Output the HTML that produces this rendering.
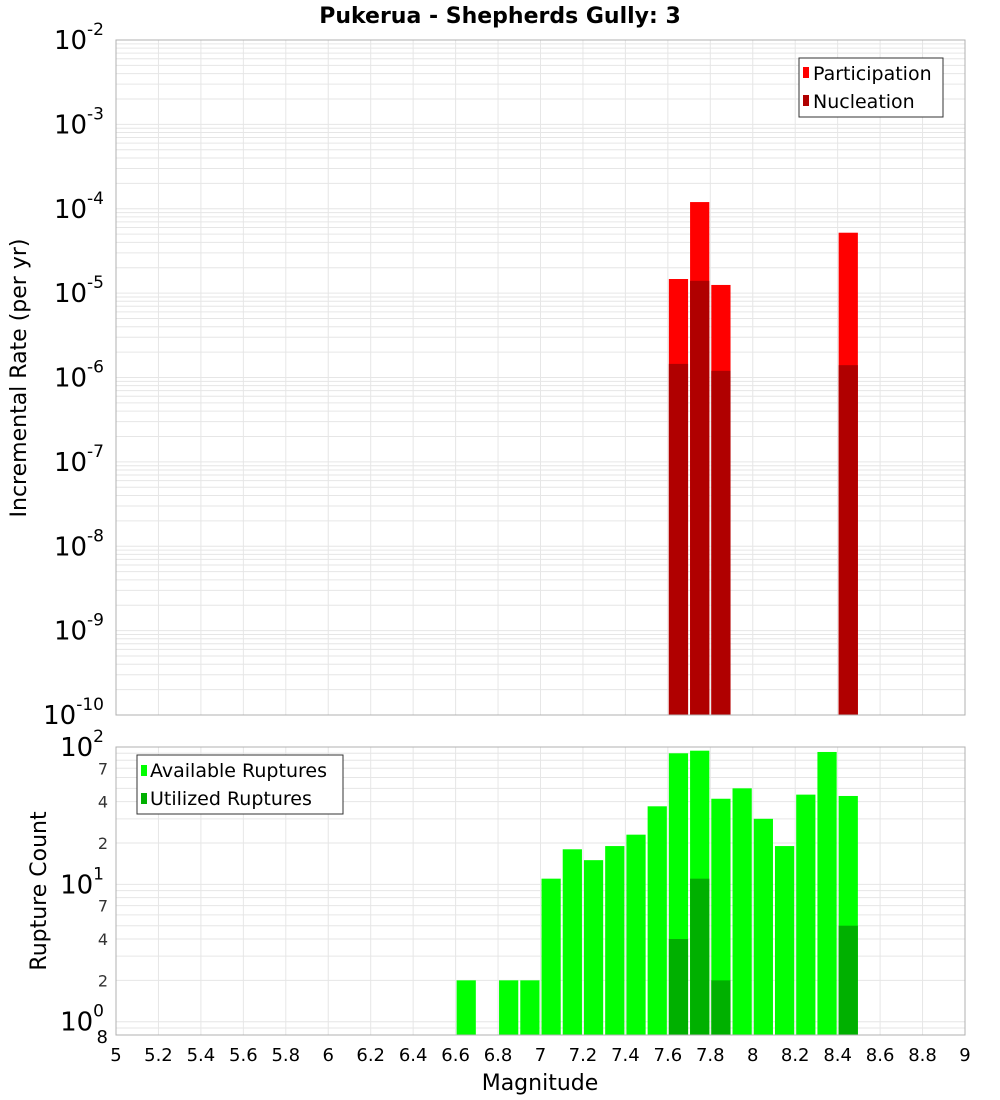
<!DOCTYPE html>
<html><head><meta charset="utf-8"><style>
body{margin:0;background:#fff;}
svg{display:block;font-family:"DejaVu Sans","Liberation Sans",sans-serif;}
</style></head><body>
<svg id="c" width="1000" height="1100">
<text x="500" y="23" text-anchor="middle" font-size="22" font-weight="bold">Pukerua - Shepherds Gully: 3</text>
<g id="grid"></g><g id="bars"></g><g id="axes"></g>
<text transform="translate(26,378) rotate(-90)" text-anchor="middle" font-size="22">Incremental Rate (per yr)</text>
<text transform="translate(46,891) rotate(-90)" text-anchor="middle" font-size="22">Rupture Count</text>
<text x="540" y="1090" text-anchor="middle" font-size="22">Magnitude</text>
<g>
<rect x="799" y="58" width="144" height="59" fill="#fff" stroke="#333"/>
<rect x="803" y="67" width="6" height="11" fill="#ff0000"/>
<text x="813" y="80" font-size="19">Participation</text>
<rect x="803" y="95" width="6" height="11" fill="#b00000"/>
<text x="813" y="108" font-size="19">Nucleation</text>
</g>
<g>
<rect x="137" y="755" width="206" height="59" fill="#fff" stroke="#333"/>
<rect x="141" y="765" width="6" height="11" fill="#00ff00"/>
<text x="150" y="777" font-size="19">Available Ruptures</text>
<rect x="141" y="793" width="6" height="11" fill="#00b000"/>
<text x="150" y="805" font-size="19">Utilized Ruptures</text>
</g>
</svg>
<script>
const mags=[6.65,6.75,6.85,6.95,7.05,7.15,7.25,7.35,7.45,7.55,7.65,7.75,7.85,7.95,8.05,8.15,8.25,8.35,8.45];
const available=[2,0,2,2,11,18,15,19,23,37,90,94,42,50,30,19,45,92,44];
const utilized=[0,0,0,0,0,0,0,0,0,0,4,11,2,0,0,0,0,0,5];
const rateMags=[7.65,7.75,7.85,8.45];
const participation=[1.47e-5,1.2e-4,1.25e-5,5.2e-5];
const nucleation=[1.45e-6,1.4e-5,1.2e-6,1.4e-6];
const xTicks=[5,5.2,5.4,5.6,5.8,6,6.2,6.4,6.6,6.8,7,7.2,7.4,7.6,7.8,8,8.2,8.4,8.6,8.8,9];
const topDecades=[-10,-9,-8,-7,-6,-5,-4,-3,-2];
const botTicks=[2,4,7,20,40,70];

const NS="http://www.w3.org/2000/svg";
const L=116,R=965,T1=40,B1=715,T2=747,B2=1035;
const x=m=>L+(m-5)/4*(R-L);
const y1=v=>T1+(-2-Math.log10(v))/8*(B1-T1);
const y2=v=>T2+(2-Math.log10(v))/(2-Math.log10(0.8))*(B2-T2);
function el(p,tag,a,txt){const e=document.createElementNS(NS,tag);for(const k in a)e.setAttribute(k,a[k]);if(txt!==undefined)e.textContent=txt;p.appendChild(e);return e;}
const G=document.getElementById('grid'),Bg=document.getElementById('bars'),A=document.getElementById('axes');
for(const t of xTicks){const l1=el(G,'line',{x1:x(t),x2:x(t),y1:T1,y2:B1,stroke:'#e6e6e6'});


const l2=el(G,'line',{x1:x(t),x2:x(t),y1:T2,y2:B2,stroke:'#e6e6e6'});

}
for(let d=-10;d<-2;d++)for(let k=1;k<10;k++){const yy=y1(k*Math.pow(10,d));const l=el(G,'line',{x1:L,x2:R,y1:yy,y2:yy,stroke:'#e6e6e6'});

}
for(let d=-1;d<2;d++)for(let k=1;k<10;k++){const v=k*Math.pow(10,d);if(v<0.8)continue;const yy=y2(v);const l=el(G,'line',{x1:L,x2:R,y1:yy,y2:yy,stroke:'#e6e6e6'});

}
const w=x(5.1)-x(5);
function bar(m,top,bot,fill,name){const r=el(Bg,'rect',{x:x(m-0.05)+1,y:top,width:w-2,height:Math.max(0,bot-top),fill:fill});

}
rateMags.forEach((m,i)=>{bar(m,y1(participation[i]),B1,'#ff0000','participation-bar');bar(m,y1(nucleation[i]),B1,'#b00000','nucleation-bar');});
mags.forEach((m,i)=>{if(available[i]>0)bar(m,y2(available[i]),B2,'#00ff00','available-bar');if(utilized[i]>0)bar(m,y2(utilized[i]),B2,'#00b000','utilized-bar');});
for(const [t,b] of [[T1,B1],[T2,B2]]){const f=el(A,'rect',{x:L,y:t,width:R-L,height:b-t,fill:'none',stroke:'#b0b0b0'});

}
for(const t of xTicks){const s=el(A,'text',{x:x(t),y:1061,'text-anchor':'middle','font-size':18},String(t));

}
for(const d of topDecades){const yy=y1(Math.pow(10,d));const g=el(A,'text',{x:104,y:yy+9,'text-anchor':'end','font-size':26});


el(g,'tspan',{},'10');el(g,'tspan',{dy:-14,'font-size':17},String(d));}
for(const v of [1,10,100]){const yy=y2(v);const g=el(A,'text',{x:104,y:yy+9,'text-anchor':'end','font-size':26});


el(g,'tspan',{},'10');el(g,'tspan',{dy:-14,'font-size':17},String(Math.round(Math.log10(v))));}
for(const v of botTicks){const s=el(A,'text',{x:108,y:y2(v)+6,'text-anchor':'end','font-size':16,fill:'#333'},String(v>=10?v/10:v));

}
const s8=el(A,'text',{x:108,y:B2+8,'text-anchor':'end','font-size':18},'8');


</script>
</body></html>
